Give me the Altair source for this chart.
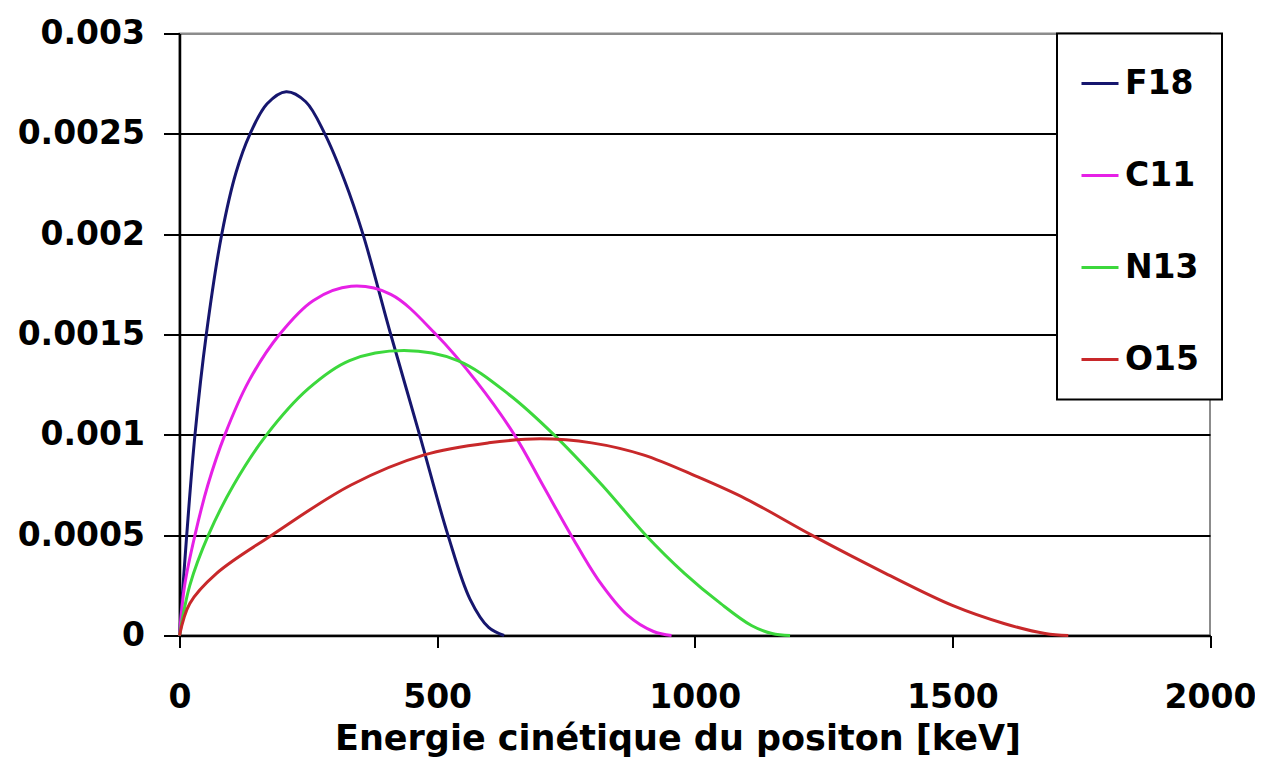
import altair as alt
import pandas as pd

# ---- data ----
series = ["F18", "C11", "N13", "O15"]
colors = ["#16166e", "#e620e6", "#3cd83c", "#c8282a"]

f18_e = [0, 14, 30, 52, 82, 110, 137, 170, 207, 245, 282, 320, 356, 410, 466, 521, 564, 600, 630]
f18_v = [0, 0.0005, 0.001, 0.0015, 0.002, 0.00231, 0.0025, 0.00265, 0.00271, 0.00266, 0.0025, 0.00227,
         0.002, 0.0015, 0.001, 0.0005, 0.00018, 0.00004, 0]

c11_e = [0, 10, 30, 55, 88, 135, 194, 260, 333, 410, 498, 575, 650, 705, 760, 812, 870, 920, 955]
c11_v = [0, 0.00025, 0.0005, 0.00075, 0.001, 0.00127, 0.0015, 0.00167, 0.00174, 0.0017, 0.0015, 0.00127,
         0.001, 0.00075, 0.0005, 0.00028, 0.0001, 0.00002, 0]

n13_e = [0, 20, 56, 105, 169, 250, 330, 436, 540, 640, 727, 820, 905, 980, 1050, 1110, 1150, 1185]
n13_v = [0, 0.00025, 0.0005, 0.00075, 0.001, 0.00123, 0.00137, 0.00142, 0.00137, 0.0012, 0.001, 0.00075,
         0.0005, 0.00031, 0.00016, 0.00005, 0.00001, 0]

o15_e = [0, 20, 72, 179, 333, 475, 600, 700, 800, 900, 1006, 1100, 1227, 1370, 1500, 1600, 1680, 1725]
o15_v = [0, 0.00016, 0.00031, 0.0005, 0.00075, 0.0009, 0.00096, 0.00098, 0.00096, 0.0009, 0.00079,
         0.00068, 0.0005, 0.00031, 0.00015, 0.00006, 0.00001, 0]

x_ticks = [0, 500, 1000, 1500, 2000]
y_ticks = [0, 0.0005, 0.001, 0.0015, 0.002, 0.0025, 0.003]

rows = []
for name, es, vs in [("F18", f18_e, f18_v), ("C11", c11_e, c11_v),
                     ("N13", n13_e, n13_v), ("O15", o15_e, o15_v)]:
    for e, v in zip(es, vs):
        rows.append({"isotope": name, "energy": e, "value": v})
df = pd.DataFrame(rows)

FONT = "DejaVu Sans"

chart = alt.Chart(df).mark_line(strokeWidth=3, interpolate="catmull-rom").encode(
    x=alt.X(
        "energy:Q",
        scale=alt.Scale(domain=[0, 2000], nice=False),
        axis=alt.Axis(
            values=x_ticks, format="d", grid=False,
            title="Energie cinétique du positon [keV]",
            titleFont=FONT, titleFontSize=35, titleFontWeight="bold", titleColor="black",
            titlePadding=7, titleX=498, titleAlign="center",
            labelFont=FONT, labelFontSize=33, labelFontWeight="bold", labelColor="black",
            labelPadding=34, labelFlush=False,
            tickSize=12, tickColor="black", tickWidth=2,
            domainColor="black", domainWidth=2.5,
        ),
    ),
    y=alt.Y(
        "value:Q",
        scale=alt.Scale(domain=[0, 0.003], nice=False),
        axis=alt.Axis(
            values=y_ticks, format="~g", title=None,
            grid=True, gridWidth=2,
            gridColor={"condition": {"test": "datum.value >= 0.0029", "value": "#8c8c8c"}, "value": "black"},
            labelFont=FONT, labelFontSize=33, labelFontWeight="bold", labelColor="black",
            labelPadding=19, labelFlush=False,
            tickSize=16, tickColor="black", tickWidth=2,
            domainColor="black", domainWidth=2.5,
        ),
    ),
    color=alt.Color(
        "isotope:N",
        scale=alt.Scale(domain=series, range=colors),
        sort=series,
        legend=alt.Legend(
            title=" ", titleFontSize=7, titlePadding=0,
            orient="none", legendX=877.5, legendY=0,
            padding=23, strokeColor="black", fillColor="white",
            symbolType="stroke", symbolSize=1369, symbolStrokeWidth=3,
            labelFont=FONT, labelFontSize=33, labelFontWeight="bold", labelColor="black",
            labelOffset=5, rowPadding=55,
        ),
    ),
).properties(
    width=1030.5,
    height=602,
    autosize=alt.AutoSizeParams(type="none"),
    padding={"left": 171.5, "top": 25.5, "right": 45, "bottom": 130},
).configure_view(
    stroke="#8c8c8c", strokeWidth=2
).configure_legend(
    strokeWidth=2
)

chart.save("out.html", embed_options={"renderer": "svg", "actions": False})
